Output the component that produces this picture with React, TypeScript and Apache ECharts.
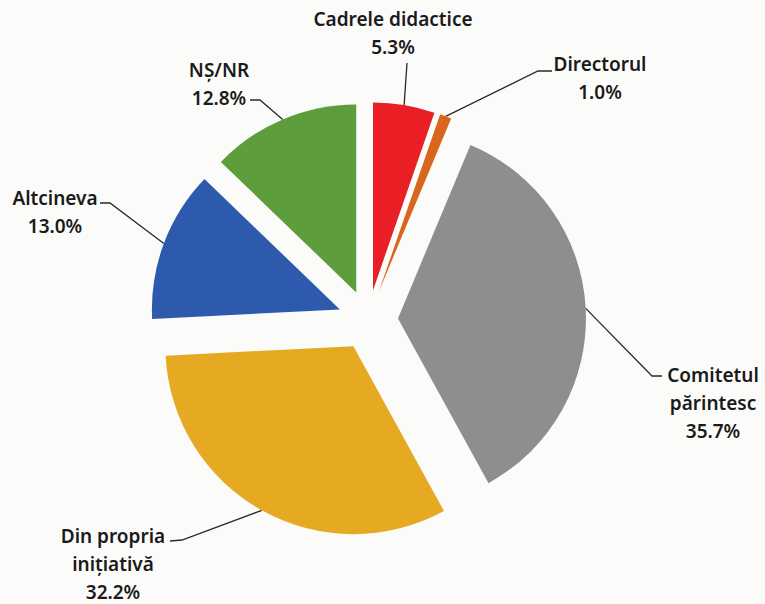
import React, { useEffect, useRef } from "react";
import * as echarts from "echarts";

const categories = [
  "Cadrele didactice",
  "Directorul",
  "Comitetul\npărintesc",
  "Din propria\ninițiativă",
  "Altcineva",
  "NȘ/NR",
];
const values = [5.3, 1.0, 35.7, 32.2, 13.0, 12.8];
const colors = ["#ea1f26", "#d8661f", "#8e8e8e", "#e5aa22", "#2d5aad", "#5e9d3c"];

// label layout: [centerX, centerY, bendX, bendY, endX, endY]
const labelLayoutPts: number[][] = [
  [393, 33, 407, 63, 407, 63],
  [600, 78, 538, 71, 552, 71],
  [713, 403, 652, 376, 662, 376],
  [113, 564, 182, 540, 170, 541],
  [55, 212, 110, 203, 100, 203],
  [219, 84, 260, 100, 250, 100],
];

const CX = 368;
const CY = 320;
const RADIUS = 188;
const EXPLODE = 30;

export default function App() {
  const ref = useRef<HTMLDivElement>(null);
  useEffect(() => {
    if (!ref.current) return;
    const chart = echarts.init(ref.current, undefined, { renderer: "svg" });
    const total = values.reduce((a, b) => a + b, 0);
    let acc = 0;
    const series = categories.map((_, k) => {
      const mid = ((acc + values[k] / 2) / total) * Math.PI * 2;
      acc += values[k];
      const center = [CX + EXPLODE * Math.sin(mid), CY - EXPLODE * Math.cos(mid)];
      return {
        type: "pie",
        center,
        radius: RADIUS,
        startAngle: 90,
        clockwise: true,
        avoidLabelOverlap: false,
        emphasis: { disabled: true },
        data: categories.map((name, i) => ({
          name,
          value: values[i],
          itemStyle: i === k ? { color: colors[i] } : { color: "rgba(0,0,0,0)" },
          label: { show: i === k },
          labelLine: { show: i === k },
        })),
        label: {
          position: "outside",
          formatter: (p: any) => `${p.name}\n${Number(p.value).toFixed(1)}%`,
          fontFamily: "Noto Sans",
          fontSize: 19,
          fontWeight: 600,
          lineHeight: 28,
          color: "#1a1a1a",
          align: "center",
        },
        labelLine: {
          length: 10,
          length2: 10,
          lineStyle: { color: "#2a2a2a", width: 1.3 },
        },
        labelLayout: (params: any) => {
          if (params.dataIndex !== k) return {};
          const pts = labelLayoutPts[k];
          const start = params.labelLinePoints ? params.labelLinePoints[0] : [pts[2], pts[3]];
          return {
            x: pts[0],
            y: pts[1],
            align: "center",
            verticalAlign: "middle",
            labelLinePoints: [start, [pts[2], pts[3]], [pts[4], pts[5]]],
          };
        },
      };
    });
    chart.setOption({
      animation: false,
      backgroundColor: "#fbfbf9",
      series,
    });
    return () => chart.dispose();
  }, []);
  return (
    <div
      ref={ref}
      style={{ position: "fixed", left: 0, top: 0, width: 765, height: 604 }}
    />
  );
}
